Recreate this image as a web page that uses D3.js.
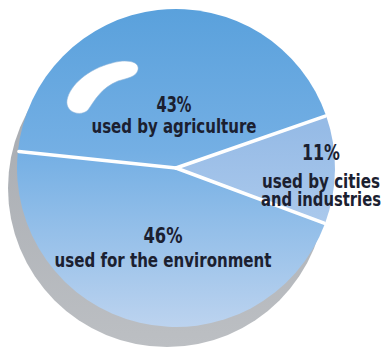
<!DOCTYPE html>
<html>
<head>
<meta charset="utf-8">
<script src="https://cdn.jsdelivr.net/npm/d3@7/dist/d3.min.js"></script>
<style>
    html, body { margin: 0; padding: 0; background: #fff; }
    svg { display: block; }
    .lbl { font-family: "DejaVu Sans", "Liberation Sans", sans-serif; font-stretch: condensed;
           font-weight: bold; fill: #1b2030; text-anchor: middle; }
</style>
</head>
<body>
<svg id="chart" width="383" height="350"></svg>
<script>
// chart data
var categories = ["agriculture", "cities", "environment"];
var shares = [43, 11, 46];
var pctLabels = ["43%", "11%", "46%"];
var captions = [["used by agriculture"], ["used by cities", "and industries"], ["used for the environment"]];

/**
  * Draw the water use pie.
  */
function drawPie() {

    'use strict';
    /*global d3*/

    var svg = d3.select("#chart"),
        cx = 176,
        cy = 168,
        radius = 159,
        startAngle = -84 * Math.PI / 180,
        defs = svg.append("defs"),
        pie,
        arc,
        arcs,
        g,
        // label layout: anchor offset from centre, line gaps, text widths
        labelOffsets = [[-2, -56], [145, -8], [-13, 75]],
        lineGaps = [[21], [28, 18], [24]],
        pctWidths = [35, 38, 39],
        captionWidths = [[165], [118, 120], [217]],
        sliceFills = ["url(#blueGrad)", "url(#cityGrad)", "url(#blueGrad)"];

    function addGradient(id, stops, y1, y2) {
        var grad = defs.append("linearGradient")
            .attr("id", id)
            .attr("gradientUnits", "userSpaceOnUse")
            .attr("x1", 0).attr("x2", 0)
            .attr("y1", y1).attr("y2", y2);
        stops.forEach(function (s) {
            grad.append("stop").attr("offset", s[0]).attr("stop-color", s[1]);
        });
    }

    // slice gradients are in the pie group's coordinates (origin at centre)
    addGradient("blueGrad", [[0, "#5aa1dc"], [0.45, "#74afe4"], [1, "#bcd3ef"]], -radius, radius);
    addGradient("cityGrad", [[0, "#96bbe6"], [1, "#aecbed"]], -40, 70);
    addGradient("rimGrad", [[0, "#a2a6ac"], [1, "#bcbfc3"]], cy - radius + 20, cy + radius + 20);

    // grey side of the disc
    svg.append("circle")
        .attr("cx", cx - 9)
        .attr("cy", cy + 20)
        .attr("r", radius)
        .style("fill", "url(#rimGrad)");

    pie = d3.pie()
        .sort(null)
        .value(function (d) { return d; })
        .startAngle(startAngle)
        .endAngle(startAngle + 2 * Math.PI);

    arc = d3.arc().innerRadius(0).outerRadius(radius);
    arcs = pie(shares);

    g = svg.append("g").attr("transform", "translate(" + cx + "," + cy + ")");

    g.selectAll("path.slice")
        .data(arcs)
        .enter()
        .append("path")
        .attr("class", "slice")
        .attr("d", arc)
        .style("fill", function (d, i) { return sliceFills[i]; });

    // white dividers
    g.selectAll("line.divider")
        .data(arcs)
        .enter()
        .append("line")
        .attr("class", "divider")
        .attr("x1", 0)
        .attr("y1", 0)
        .attr("x2", function (d) { return Math.sin(d.startAngle) * (radius - 1); })
        .attr("y2", function (d) { return -Math.cos(d.startAngle) * (radius - 1); })
        .style("stroke", "#fff")
        .style("stroke-width", 3.5)
        .style("stroke-linecap", "round");

    // glossy highlight
    svg.append("path")
        .attr("d", "M138,70 C140,61 126,59 112,63 C88,69 70,85 67,100 C65,113 81,117 88,110 " +
                   "C95,100 101,88 118,81 C128,78 136,77 138,70 Z")
        .style("fill", "#fff")
        .style("stroke", "#8fb6da")
        .style("stroke-width", 0.6);

    // labels
    arcs.forEach(function (d, i) {
        var x = labelOffsets[i][0],
            t = g.append("text")
                .attr("class", "lbl")
                .attr("y", labelOffsets[i][1]);
        t.append("tspan")
            .attr("x", x)
            .style("font-size", "22px")
            .attr("textLength", pctWidths[i])
            .attr("lengthAdjust", "spacingAndGlyphs")
            .text(pctLabels[i]);
        captions[i].forEach(function (line, j) {
            t.append("tspan")
                .attr("x", x)
                .attr("dy", lineGaps[i][j])
                .style("font-size", "20px")
                .attr("textLength", captionWidths[i][j])
                .attr("lengthAdjust", "spacingAndGlyphs")
                .text(line);
        });
    });
}

drawPie();
</script>
</body>
</html>
